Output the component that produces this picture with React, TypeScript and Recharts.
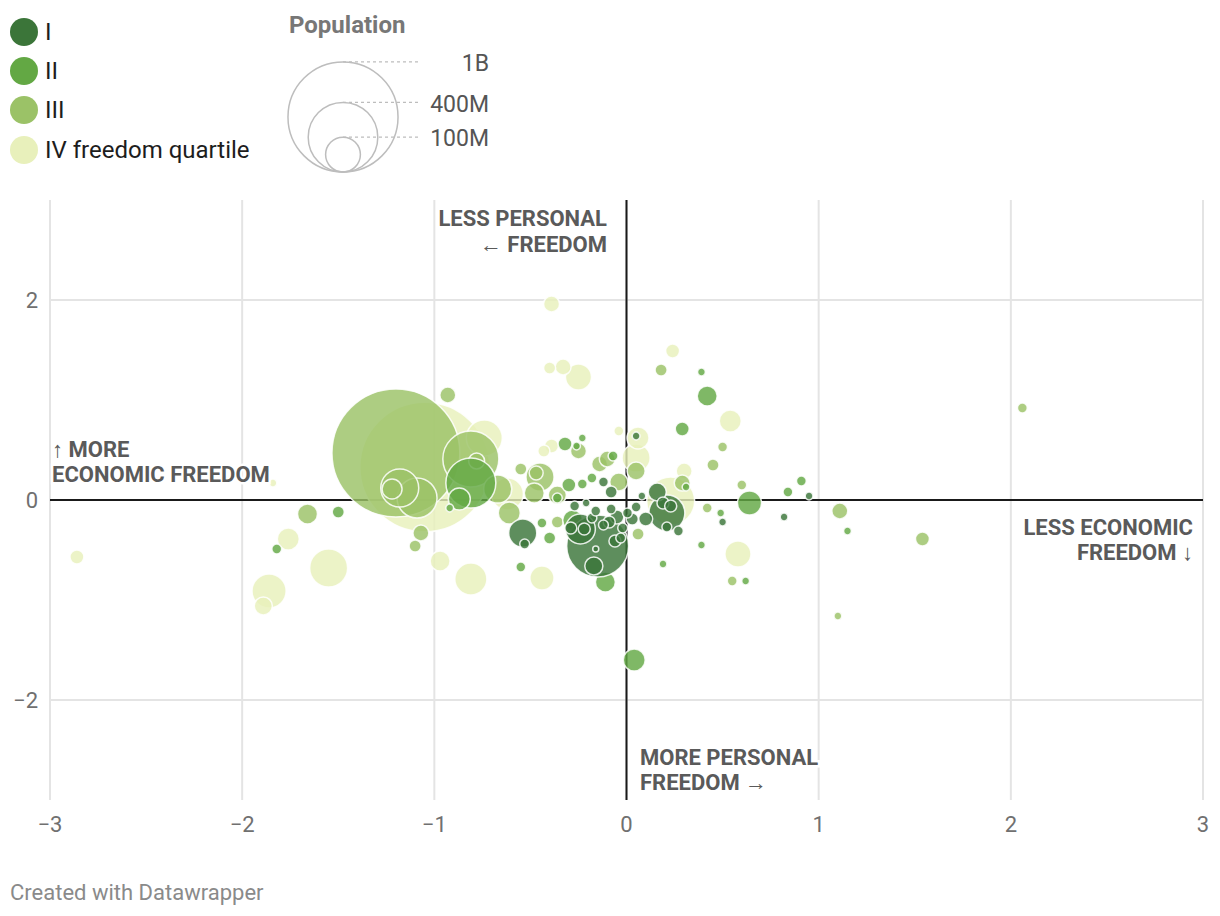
import React from "react";
import {
  ScatterChart,
  Scatter,
  XAxis,
  YAxis,
  ZAxis,
  CartesianGrid,
  ReferenceLine,
} from "recharts";

// [personal freedom (x), economic freedom (y), population in millions]
const quartileI: [number, number, number][] = [
  [-0.15, -0.46, 317], [-0.24, -0.29, 74], [0.21, -0.13, 107], [0.16, 0.08, 27],
  [-0.54, -0.33, 65], [-0.53, -0.44, 8], [-0.17, -0.66, 27], [-0.16, -0.49, 3],
  [-0.29, -0.28, 12], [-0.22, -0.29, 12], [-0.18, -0.18, 8], [-0.12, -0.25, 8],
  [-0.08, -0.09, 8], [-0.09, -0.22, 12], [-0.05, -0.17, 16], [-0.02, -0.28, 8],
  [-0.03, -0.38, 8], [0.005, -0.13, 8], [0.03, -0.19, 12], [0.05, -0.07, 8],
  [0.08, 0.04, 5], [0.1, -0.19, 16], [-0.12, 0.18, 8], [-0.08, 0.08, 12],
  [-0.21, -0.03, 5], [0.05, 0.64, 5], [0.19, -0.03, 12], [0.23, -0.06, 12],
  [0.21, -0.27, 8], [0.27, -0.31, 8], [0.95, 0.04, 5], [0.5, -0.22, 5],
  [0.82, -0.17, 5], [-0.16, -0.11, 8], [-0.27, -0.06, 8], [-0.06, -0.41, 12],
];
const quartileII: [number, number, number][] = [
  [-0.81, 0.17, 206], [-0.87, 0.01, 40], [-0.92, -0.08, 5], [-0.32, 0.56, 16],
  [-0.26, 0.54, 5], [-0.23, 0.62, 5], [-0.07, 0.44, 8], [-0.3, 0.15, 16],
  [-0.23, 0.16, 8], [-0.18, 0.22, 8], [-0.36, 0.02, 8], [-0.28, -0.2, 33],
  [-0.44, -0.23, 8], [-0.4, -0.38, 12], [-0.55, -0.67, 8], [-0.11, -0.82, 33],
  [0.19, -0.64, 5], [-1.5, -0.12, 12], [-1.82, -0.49, 8], [0.31, 0.13, 5],
  [0.39, 1.28, 5], [0.42, 1.04, 33], [0.29, 0.71, 16], [0.64, -0.03, 48],
  [0.84, 0.08, 8], [0.91, 0.19, 8], [0.49, -0.13, 5], [0.39, -0.45, 5],
  [0.62, -0.81, 5], [1.15, -0.31, 5], [0.04, -1.6, 40],
];
const quartileIII: [number, number, number][] = [
  [-1.2, 0.47, 1350], [-0.93, 1.05, 21], [-0.81, 0.41, 259], [-0.78, 0.39, 21],
  [-0.67, 0.11, 65], [-1.18, 0.12, 119], [-1.22, 0.11, 33], [-1.09, 0.02, 132],
  [-0.61, -0.13, 40], [-0.55, 0.31, 12], [-0.45, 0.23, 65], [-0.47, 0.27, 16],
  [-0.48, 0.07, 33], [-0.36, 0.05, 27], [-0.25, 0.49, 21], [-0.14, 0.36, 21],
  [-0.1, 0.41, 21], [-0.36, -0.22, 12], [0.06, -0.34, 12], [0.18, 1.3, 12],
  [0.5, 0.53, 8], [0.45, 0.35, 12], [0.05, 0.29, 27], [0.29, 0.17, 21],
  [0.6, 0.15, 8], [0.42, -0.08, 8], [1.11, -0.11, 21], [1.54, -0.39, 16],
  [0.55, -0.81, 8], [1.1, -1.16, 5], [2.06, 0.92, 8], [-1.66, -0.14, 33],
  [-1.07, -0.33, 21], [-1.1, -0.46, 12], [-0.04, 0.18, 27],
];
const quartileIV: [number, number, number][] = [
  [-1.05, 0.33, 1390], [-0.39, 1.96, 21], [-0.4, 1.32, 12], [-0.33, 1.33, 21],
  [-0.25, 1.23, 56], [-0.74, 0.62, 107], [-0.62, 0.06, 85], [-0.44, -0.78, 48],
  [-0.81, -0.79, 85], [-0.97, -0.61, 33], [-1.55, -0.68, 119], [-1.76, -0.39, 40],
  [-1.86, -0.91, 96], [-1.89, -1.06, 27], [-1.84, 0.17, 5], [-2.86, -0.57, 16],
  [0.24, 1.49, 16], [-0.04, 0.69, 8], [0.06, 0.62, 40], [0.05, 0.42, 65],
  [0.3, 0.29, 21], [0.23, -0.01, 190], [0.54, 0.79, 40], [0.58, -0.54, 56],
  [-0.43, 0.49, 12], [-0.39, 0.54, 16],
];

const quartileNames = ["I", "II", "III", "IV freedom quartile"];
const quartileColors = ["#3b7539", "#63a844", "#9bc267", "#e8f0bb"];
const xTicks = [-3, -2, -1, 0, 1, 2, 3];
const yTicks = [-2, 0, 2];
const yGridLines = [-2, 2];
const sizeLegend = [
  { label: "1B", pop: 1000 },
  { label: "400M", pop: 400 },
  { label: "100M", pop: 100 },
];

const K = 1.74; // px radius per sqrt(million)
const POP_MAX = 1400;
const AREA_MAX = Math.PI * K * K * POP_MAX;

const toRows = (arr: [number, number, number][]) =>
  arr
    .map(([x, y, p]) => ({ x, y, p }))
    .sort((a, b) => b.p - a.p);

const series = [quartileIV, quartileIII, quartileII, quartileI].map(toRows);
const seriesColors = [quartileColors[3], quartileColors[2], quartileColors[1], quartileColors[0]];

const FONT = "Roboto, 'Noto Sans', sans-serif";
const fmt = (v: number) => (v < 0 ? "\u2212" + Math.abs(v) : String(v));

function ColorLegend() {
  const ys = [32, 71, 110, 150];
  return (
    <>
      {quartileNames.map((n, i) => (
        <div
          key={n}
          style={{
            position: "absolute",
            left: 10,
            top: ys[i] - 14,
            height: 28,
            display: "flex",
            alignItems: "center",
            fontFamily: FONT,
            fontSize: 24,
            color: "#1d1d1d",
            whiteSpace: "nowrap",
          }}
        >
          <span
            style={{
              display: "inline-block",
              width: 28,
              height: 28,
              borderRadius: 14,
              background: quartileColors[i],
              marginRight: 7,
            }}
          />
          {n}
        </div>
      ))}
    </>
  );
}

function SizeLegend() {
  const cx = 343;
  const bottom = 172;
  return (
    <svg
      width={520}
      height={190}
      style={{ position: "absolute", left: 0, top: 0, overflow: "visible" }}
    >
      <text x={289} y={24} dy="0.36em" fontFamily={FONT} fontSize={24} fontWeight={700} fill="#777">
        Population
      </text>
      {sizeLegend.map((s) => {
        const r = K * Math.sqrt(s.pop);
        const top = bottom - 2 * r;
        return (
          <g key={s.label}>
            <circle cx={cx} cy={bottom - r} r={r} fill="none" stroke="#bdbdbd" strokeWidth={1.5} />
            <line x1={cx} x2={418} y1={top} y2={top} stroke="#bdbdbd" strokeWidth={1.2} strokeDasharray="3,3" />
            <text x={489} y={top + 1} dy="0.36em" textAnchor="end" fontFamily={FONT} fontSize={23} fill="#555">
              {s.label}
            </text>
          </g>
        );
      })}
    </svg>
  );
}

function Annotations() {
  const common = {
    fontFamily: FONT,
    fontSize: 22,
    fontWeight: 700,
    fill: "#5a5a5a",
    stroke: "#fff",
    strokeWidth: 5,
    paintOrder: "stroke",
    dy: "0.36em",
  } as any;
  return (
    <svg
      width={1220}
      height={916}
      style={{ position: "absolute", left: 0, top: 0, pointerEvents: "none" }}
    >
      <text x={607} y={218} textAnchor="end" {...common}>LESS PERSONAL</text>
      <text x={607} y={244} textAnchor="end" {...common}>{"\u2190 FREEDOM"}</text>
      <text x={52} y={449} {...common}>{"\u2191 MORE"}</text>
      <text x={52} y={474} {...common}>ECONOMIC FREEDOM</text>
      <text x={1193} y={527} textAnchor="end" {...common}>LESS ECONOMIC</text>
      <text x={1193} y={552} textAnchor="end" {...common}>{"FREEDOM \u2193"}</text>
      <text x={640} y={757} {...common}>MORE PERSONAL</text>
      <text x={640} y={782} {...common}>{"FREEDOM \u2192"}</text>
      <text x={10} y={892} dy="0.36em" fontFamily={FONT} fontSize={22} fill="#8a8a8a">
        Created with Datawrapper
      </text>
    </svg>
  );
}

export default function App() {
  return (
    <div style={{ position: "absolute", left: 0, top: 0, width: 1220, height: 916, background: "#fff" }}>
      <ScatterChart
        width={1220}
        height={916}
        margin={{ top: 200, right: 17, bottom: 66, left: 0 }}
      >
        <CartesianGrid stroke="#e4e4e4" strokeWidth={2} horizontal={false} />
        {yGridLines.map((v) => (
          <ReferenceLine key={v} y={v} stroke="#e4e4e4" strokeWidth={2} />
        ))}
        <XAxis
          type="number"
          dataKey="x"
          domain={[-3, 3]}
          ticks={xTicks}
          tickFormatter={fmt}
          height={50}
          axisLine={false}
          tickLine={false}
          tickMargin={10}
          tick={{ fontFamily: FONT, fontSize: 22, fill: "#707070" }}
          allowDataOverflow
        />
        <YAxis
          type="number"
          dataKey="y"
          domain={[-3, 3]}
          ticks={yTicks}
          tickFormatter={fmt}
          width={50}
          axisLine={false}
          tickLine={false}
          tickMargin={6}
          tick={{ fontFamily: FONT, fontSize: 22, fill: "#707070" }}
          allowDataOverflow
        />
        <ZAxis type="number" dataKey="p" domain={[0, POP_MAX]} range={[0, AREA_MAX]} />
        {series.map((data, i) => (
          <Scatter
            key={i}
            data={data}
            fill={seriesColors[i]}
            fillOpacity={0.82}
            stroke="#ffffff"
            strokeWidth={1.5}
            strokeOpacity={0.85}
            isAnimationActive={false}
          />
        ))}
        <ReferenceLine x={0} stroke="#1a1a1a" strokeWidth={2} />
        <ReferenceLine y={0} stroke="#1a1a1a" strokeWidth={2} />
      </ScatterChart>
      <ColorLegend />
      <SizeLegend />
      <Annotations />
    </div>
  );
}
